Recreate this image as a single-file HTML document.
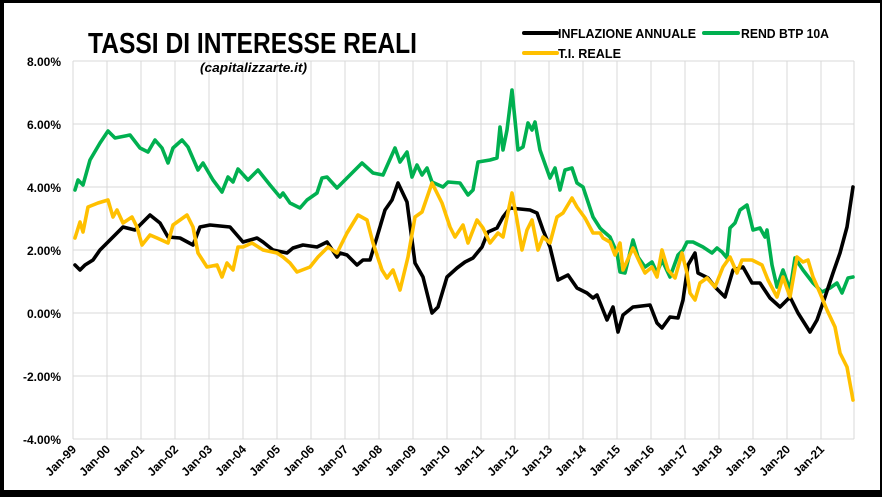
<!DOCTYPE html>
<html><head><meta charset="utf-8"><style>
html,body{margin:0;padding:0;background:#fff}
svg{display:block}
text{font-family:"Liberation Sans",Arial,sans-serif;font-weight:bold;fill:#000}
</style></head><body>
<svg width="882" height="497" viewBox="0 0 882 497" xmlns="http://www.w3.org/2000/svg">
<rect x="0" y="0" width="882" height="497" fill="#000"/>
<rect x="4" y="3" width="876" height="487" fill="#fff"/>
<g stroke="#d9d9d9" stroke-width="1">
<line x1="73" y1="61" x2="854" y2="61"/><line x1="73" y1="124" x2="854" y2="124"/>
<line x1="73" y1="187" x2="854" y2="187"/><line x1="73" y1="250" x2="854" y2="250"/>
<line x1="73" y1="313" x2="854" y2="313"/><line x1="73" y1="376" x2="854" y2="376"/>
<line x1="73" y1="439" x2="854" y2="439"/>
<line x1="73" y1="61" x2="73" y2="439"/><line x1="107" y1="61" x2="107" y2="439"/><line x1="141" y1="61" x2="141" y2="439"/><line x1="175" y1="61" x2="175" y2="439"/><line x1="209" y1="61" x2="209" y2="439"/><line x1="243" y1="61" x2="243" y2="439"/><line x1="277" y1="61" x2="277" y2="439"/><line x1="311" y1="61" x2="311" y2="439"/><line x1="345" y1="61" x2="345" y2="439"/><line x1="379" y1="61" x2="379" y2="439"/><line x1="413" y1="61" x2="413" y2="439"/><line x1="447" y1="61" x2="447" y2="439"/><line x1="481" y1="61" x2="481" y2="439"/><line x1="515" y1="61" x2="515" y2="439"/><line x1="549" y1="61" x2="549" y2="439"/><line x1="583" y1="61" x2="583" y2="439"/><line x1="617" y1="61" x2="617" y2="439"/><line x1="651" y1="61" x2="651" y2="439"/><line x1="685" y1="61" x2="685" y2="439"/><line x1="719" y1="61" x2="719" y2="439"/><line x1="753" y1="61" x2="753" y2="439"/><line x1="787" y1="61" x2="787" y2="439"/><line x1="821" y1="61" x2="821" y2="439"/><line x1="854" y1="61" x2="854" y2="439"/>
</g>
<g font-size="12" text-anchor="end">
<text x="61" y="66">8.00%</text><text x="61" y="129">6.00%</text><text x="61" y="192">4.00%</text><text x="61" y="255">2.00%</text><text x="61" y="318">0.00%</text><text x="61" y="381">-2.00%</text><text x="61" y="444">-4.00%</text>
</g>
<g font-size="12" text-anchor="end">
<text transform="translate(77,450) rotate(-45)">Jan-99</text><text transform="translate(111,450) rotate(-45)">Jan-00</text><text transform="translate(145,450) rotate(-45)">Jan-01</text><text transform="translate(179,450) rotate(-45)">Jan-02</text><text transform="translate(213,450) rotate(-45)">Jan-03</text><text transform="translate(247,450) rotate(-45)">Jan-04</text><text transform="translate(281,450) rotate(-45)">Jan-05</text><text transform="translate(315,450) rotate(-45)">Jan-06</text><text transform="translate(349,450) rotate(-45)">Jan-07</text><text transform="translate(383,450) rotate(-45)">Jan-08</text><text transform="translate(417,450) rotate(-45)">Jan-09</text><text transform="translate(451,450) rotate(-45)">Jan-10</text><text transform="translate(485,450) rotate(-45)">Jan-11</text><text transform="translate(519,450) rotate(-45)">Jan-12</text><text transform="translate(553,450) rotate(-45)">Jan-13</text><text transform="translate(587,450) rotate(-45)">Jan-14</text><text transform="translate(621,450) rotate(-45)">Jan-15</text><text transform="translate(655,450) rotate(-45)">Jan-16</text><text transform="translate(689,450) rotate(-45)">Jan-17</text><text transform="translate(723,450) rotate(-45)">Jan-18</text><text transform="translate(757,450) rotate(-45)">Jan-19</text><text transform="translate(791,450) rotate(-45)">Jan-20</text><text transform="translate(825,450) rotate(-45)">Jan-21</text>
</g>
<text x="88" y="53" font-size="29" textLength="329" lengthAdjust="spacingAndGlyphs">TASSI DI INTERESSE REALI</text>
<text x="200" y="72" font-size="13" font-style="italic" textLength="107" lengthAdjust="spacingAndGlyphs">(capitalizzarte.it)</text>
<g stroke-width="4" stroke-linecap="round">
<line x1="524" y1="33" x2="557" y2="33" stroke="#000"/>
<line x1="704" y1="33" x2="738" y2="33" stroke="#00b050"/>
<line x1="524" y1="53" x2="557" y2="53" stroke="#ffc000"/>
</g>
<g font-size="13">
<text x="558" y="38" textLength="138" lengthAdjust="spacingAndGlyphs">INFLAZIONE ANNUALE</text>
<text x="741" y="38" textLength="88" lengthAdjust="spacingAndGlyphs">REND BTP 10A</text>
<text x="558" y="58" textLength="63" lengthAdjust="spacingAndGlyphs">T.I. REALE</text>
</g>
<g fill="none" stroke-width="3.6" stroke-linejoin="round" stroke-linecap="round">
<polyline stroke="#00b050" points="75,190 78,180 83,185 90,160 100,143 108,131 115,138 130,135 140,148 148,152 155,140 162,148 168,163 173,148 182,140 188,147 198,170 203,163 213,180 222,192 228,177 233,182 238,169 248,180 258,170 270,185 280,197 283,193 290,203 300,208 307,200 317,193 322,178 327,177 337,188 347,178 362,163 373,173 383,175 395,148 400,162 407,152 412,177 417,165 422,175 427,168 432,182 443,187 448,182 460,183 468,195 473,190 478,162 490,160 497,158 500,127 503,150 507,130 512,90 518,150 523,147 528,123 532,130 535,122 540,150 550,178 555,168 560,190 565,170 572,168 577,183 583,187 593,217 600,228 602,230 610,237 617,253 620,272 625,273 633,240 638,257 645,267 652,262 657,273 662,260 670,277 678,255 683,250 687,242 693,242 703,247 712,253 717,248 722,252 727,258 730,228 735,223 740,210 747,205 753,230 760,228 765,237 767,230 772,265 777,287 783,270 790,290 795,258 803,270 813,283 822,292 830,288 837,283 842,293 848,278 853,277"/>
<polyline stroke="#000" points="75,265 80,270 85,265 93,260 100,250 107,243 115,235 123,227 135,230 142,223 150,215 160,223 168,237 180,238 193,245 200,227 210,225 230,227 243,242 257,238 263,242 273,250 287,253 293,248 303,245 317,247 327,242 337,257 340,253 347,255 357,265 363,260 370,260 377,237 385,210 392,200 398,183 407,202 415,263 423,277 432,313 438,307 447,277 457,268 465,262 473,258 482,247 488,232 497,228 503,217 510,208 530,210 537,213 543,230 550,247 558,280 568,275 577,288 587,293 593,298 597,295 607,320 613,307 618,332 623,315 633,307 650,305 657,323 662,328 670,317 678,318 683,300 688,265 695,253 698,273 708,278 715,287 725,297 733,270 743,267 752,283 760,283 770,298 780,307 790,297 798,313 810,332 817,320 825,297 833,273 840,253 847,227 853,187"/>
<polyline stroke="#ffc000" points="75,238 80,222 83,232 88,207 98,203 108,200 113,217 117,210 123,223 132,217 137,227 142,245 150,235 157,238 168,243 173,225 187,215 193,227 198,253 207,267 217,265 222,277 227,263 233,270 238,247 243,247 252,243 263,250 277,253 283,257 290,263 297,272 310,267 318,257 328,247 337,253 347,233 358,215 367,220 373,243 382,270 387,278 393,270 400,290 408,257 415,217 422,212 432,183 442,203 450,227 455,237 463,225 468,243 477,220 483,228 490,243 498,233 503,237 512,193 517,220 522,250 527,230 532,220 538,250 543,237 550,243 557,217 563,213 572,198 577,207 585,218 593,233 600,233 603,238 610,242 615,255 620,243 623,270 633,248 640,263 645,273 652,267 657,277 662,250 668,270 675,278 682,253 687,273 690,293 695,300 700,283 707,278 715,287 723,267 730,257 737,273 742,260 752,260 762,265 768,280 777,297 783,277 790,297 797,257 803,262 808,260 813,277 820,293 827,310 835,327 840,353 847,367 853,400"/>
</g>
</svg>
</body></html>
